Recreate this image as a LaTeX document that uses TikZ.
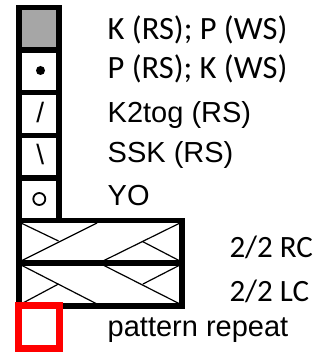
\documentclass[tikz,border=0pt]{standalone}
\usepackage{fontspec}
\setmainfont{Liberation Sans}
\newfontfamily\calibri{Carlito}
\definecolor{cellgray}{RGB}{166,166,166}
\definecolor{repeatred}{RGB}{255,0,0}
\tikzset{
  grid/.style={line width=5.5pt, line cap=rect},
  strand/.style={line width=1.2pt},
  lab/.style={anchor=base west, inner sep=0pt, font=\fontsize{29}{29}\selectfont},
  clab/.style={anchor=base west, inner sep=0pt, font=\calibri\fontsize{31}{31}\selectfont},
  sym/.style={anchor=base, inner sep=0pt, font=\fontsize{28}{28}\selectfont}
}
\begin{document}
\begin{tikzpicture}[x=1pt, y=-1pt, line join=miter]
  \useasboundingbox (0,0) rectangle (324,352);
  % key column
  \fill[cellgray] (19,7.5) rectangle (59,50.1);
  \draw[grid] (59,220.5)--(59,7.5)--(19,7.5)--(19,306);
  \foreach \y in {50.1,92.7,135.3,177.9}
    \draw[grid] (19,\y)--(59,\y);
  \fill (40.5,70.5) circle (4.5);
  \node[sym] (slash) at (40.3,123) {/};
  \node[sym] (bslash) at (40.3,165) {\textbackslash};
  \draw[line width=1.8pt] (39.3,199) circle (6);
  % cable box
  \draw[grid] (19,220.5) rectangle (182,306);
  \draw[grid] (19,263)--(182,263);
  % 2/2 RC
  \draw[strand] (21,261)--(97,223);
  \draw[strand] (21,223)--(58.5,241);
  \draw[strand] (103,261)--(180,223);
  \draw[strand] (142.5,241.5)--(180,261);
  % 2/2 LC
  \draw[strand] (21,265)--(97,304);
  \draw[strand] (21,304)--(58.5,284);
  \draw[strand] (103,265)--(180,304);
  \draw[strand] (143,284)--(180,265);
  % repeat mark
  \draw[repeatred, line width=7pt] (18.5,305.5) rectangle (59.5,348.5);
  % labels
  \node[clab, font=\calibri\fontsize{32.5}{32.5}\selectfont] (knit) at (107.5,40) {K (RS); P (WS)};
  \node[clab, font=\calibri\fontsize{32.5}{32.5}\selectfont] (purl) at (107.5,78.3) {P (RS); K (WS)};
  \node[lab] (ktog) at (107.5,122.3) {K2tog (RS)};
  \node[lab] (ssk) at (107.5,162.7) {SSK (RS)};
  \node[lab] (yo) at (107.5,205) {YO};
  \node[clab] (rc) at (229.3,257.3) {2/2 RC};
  \node[clab] (lc) at (229.3,301.7) {2/2 LC};
  \node[lab] (rep) at (107.5,336) {pattern repeat};
\end{tikzpicture}
\end{document}
